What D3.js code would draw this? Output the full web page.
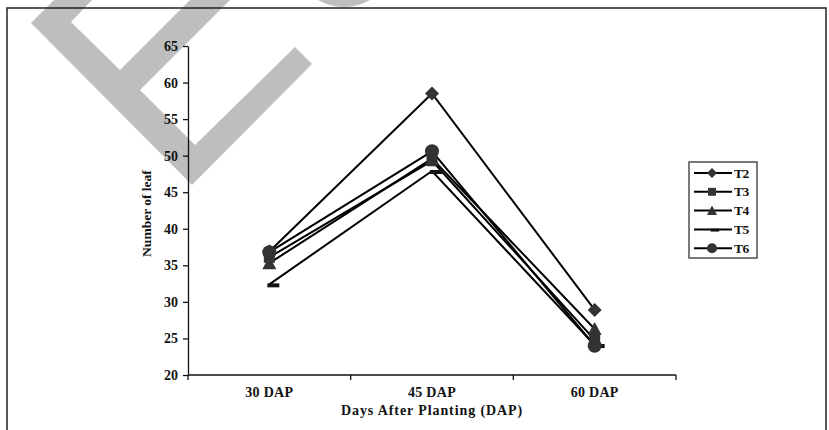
<!DOCTYPE html>
<html>
<head>
<meta charset="utf-8">
<script src="https://cdn.jsdelivr.net/npm/d3@7"></script>
<style>
  html, body { margin: 0; padding: 0; background: #fff; }
  svg { display: block; }
  text { font-family: "Liberation Serif", "Times New Roman", serif; font-weight: bold; fill: #111; }
</style>
</head>
<body>
<svg id="chart" width="829" height="430"></svg>
<script>
// Sampling days and leaf counts per treatment
const categories = ["30 DAP", "45 DAP", "60 DAP"];
const seriesNames = ["T2", "T3", "T4", "T5", "T6"];
const t2 = [36.9, 58.5, 28.9];
const t3 = [36.1, 49.3, 24.8];
const t4 = [35.3, 49.6, 26.3];
const t5 = [32.4, 47.9, 24.1];
const t6 = [36.8, 50.6, 24.0];
const yTicks = [20, 25, 30, 35, 40, 45, 50, 55, 60, 65];

const seriesValues = [t2, t3, t4, t5, t6];
const markerKinds = ["diamond", "square", "triangle", "dash", "circle"];
const series = seriesNames.map((name, i) => ({ name, values: seriesValues[i], marker: markerKinds[i] }));

const svg = d3.select("#chart");

// Light grey lettering drawn behind the chart
const deco = svg.append("g").attr("fill", "#bebebe");
deco.append("path").attr("d",
  "M31,23 L54,0 L92,0 L71,22 L120,70 L190,0 L230,0 L140,90 L195,145 L295,47 L312,64 L192,185 Z");
deco.append("circle").attr("cx", 344).attr("cy", -45).attr("r", 52);

// Outer border
svg.append("rect")
  .attr("x", 7).attr("y", 8).attr("width", 819).attr("height", 440)
  .attr("fill", "none").attr("stroke", "#222").attr("stroke-width", 1.5);

const x = d3.scaleBand().domain(categories).range([188, 676]).padding(0);
const y = d3.scaleLinear().domain([20, 65]).range([375, 46]);
const cx = d => x(d) + x.bandwidth() / 2;

// Y axis
const yAxis = svg.append("g")
  .attr("transform", `translate(${x.range()[0]},0)`)
  .call(d3.axisLeft(y).tickValues(yTicks).tickSize(5).tickSizeOuter(0).tickPadding(5));
yAxis.select(".domain").attr("stroke", "#111").attr("stroke-width", 1.3);
yAxis.selectAll(".tick line").attr("stroke", "#111").attr("stroke-width", 1.3);
yAxis.selectAll(".tick text").attr("font-size", 14).attr("fill", "#111");

// X axis with tick marks on category boundaries
const x0 = x.range()[0], x1 = x.range()[1], yBase = y(20);
const xAxis = svg.append("g");
xAxis.append("line").attr("x1", x0).attr("x2", x1).attr("y1", yBase).attr("y2", yBase)
  .attr("stroke", "#111").attr("stroke-width", 1.3);
const bounds = categories.map(c => x(c)).concat([x1]);
xAxis.selectAll("line.tk").data(bounds).join("line").attr("class", "tk")
  .attr("x1", d => d).attr("x2", d => d).attr("y1", yBase).attr("y2", yBase + 5)
  .attr("stroke", "#111").attr("stroke-width", 1.3);
xAxis.selectAll("text").data(categories).join("text")
  .attr("x", d => cx(d)).attr("y", yBase + 22)
  .attr("text-anchor", "middle").attr("font-size", 14).attr("letter-spacing", 0.3).text(d => d);

// Axis titles
svg.append("text")
  .attr("x", cx(categories[1])).attr("y", 415)
  .attr("text-anchor", "middle").attr("font-size", 14).attr("letter-spacing", 0.9)
  .text("Days After Planting (DAP)");
svg.append("text")
  .attr("transform", `translate(151,${(y(20) + y(65)) / 2 + 3}) rotate(-90)`)
  .attr("text-anchor", "middle").attr("font-size", 13.5)
  .text("Number of leaf");

// Marker drawing
const markFill = "#333";
function drawMarker(g, kind) {
  if (kind === "diamond") {
    g.append("path").attr("d", "M0,-7 L7,0 L0,7 L-7,0 Z").attr("fill", markFill);
  } else if (kind === "square") {
    g.append("rect").attr("x", -5.5).attr("y", -5.5).attr("width", 11).attr("height", 11).attr("fill", markFill);
  } else if (kind === "triangle") {
    g.append("path").attr("d", "M0,-7 L7,6 L-7,6 Z").attr("fill", markFill);
  } else if (kind === "dash") {
    g.append("rect").attr("x", -2).attr("y", -1).attr("width", 12).attr("height", 4).attr("fill", "#111");
  } else {
    g.append("circle").attr("r", 7).attr("fill", markFill);
  }
}

// Series lines and markers
const line = d3.line().x((d, i) => cx(categories[i])).y(d => y(d));
const plot = svg.append("g");
series.forEach(s => {
  plot.append("path").datum(s.values).attr("d", line)
    .attr("fill", "none").attr("stroke", "#000").attr("stroke-width", 2);
});
series.forEach(s => {
  s.values.forEach((v, i) => {
    const g = plot.append("g").attr("transform", `translate(${cx(categories[i])},${y(v)})`);
    drawMarker(g, s.marker);
  });
});

// Legend
const legend = svg.append("g").attr("transform", "translate(689,162)");
legend.append("rect").attr("x", 0).attr("y", 0).attr("width", 68).attr("height", 96)
  .attr("fill", "#fff").attr("stroke", "#333").attr("stroke-width", 1.3);
series.forEach((s, i) => {
  const row = legend.append("g").attr("transform", `translate(0,${11 + i * 18.8})`);
  row.append("line").attr("x1", 5).attr("x2", 43).attr("y1", 0).attr("y2", 0)
    .attr("stroke", "#000").attr("stroke-width", 2);
  const m = row.append("g").attr("transform", "translate(23,0) scale(0.72)");
  drawMarker(m, s.marker);
  row.append("text").attr("x", 45).attr("y", 4.5).attr("font-size", 13.5).attr("letter-spacing", -0.5).text(s.name);
});
</script>
</body>
</html>
